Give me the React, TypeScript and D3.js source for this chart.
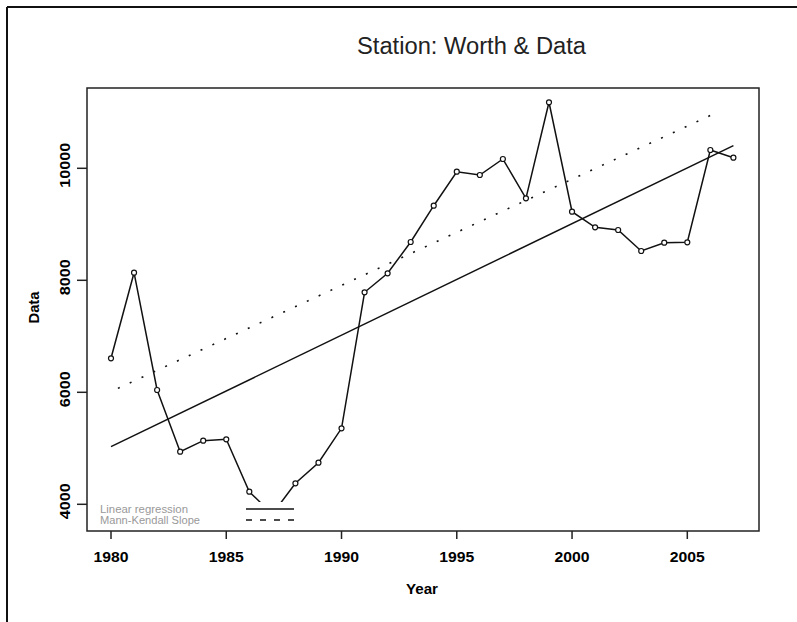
import React from "react";
import * as d3 from "d3";

const years = [1980,1981,1982,1983,1984,1985,1986,1987,1988,1989,1990,1991,1992,1993,1994,1995,1996,1997,1998,1999,2000,2001,2002,2003,2004,2005,2006,2007];
const values = [6607,8136,6041,4939,5136,5161,4225,3826,4375,4743,5357,7786,8125,8684,9332,9939,9880,10166,9464,11179,9225,8946,8898,8523,8671,8679,10327,10189];
const regYears = [1980, 2007];
const regValues = [5029, 10404];
const mkYears = [1980.3, 2006.3];
const mkValues = [6070, 11000];
const xTicks = [1980, 1985, 1990, 1995, 2000, 2005];
const yTicks = [4000, 6000, 8000, 10000];
const legendLabels = ["Linear regression", "Mann-Kendall Slope"];
const title = "Station: Worth & Data";

export default function App() {
  const x = d3.scaleLinear().domain([1980, 2005]).range([111, 687.3]);
  const y = d3.scaleLinear().domain([4000, 10000]).range([504.3, 168.3]);
  const line = d3.line<[number, number]>().x(d => x(d[0])).y(d => y(d[1]));
  const dataPts: [number, number][] = years.map((yr, i) => [yr, values[i]]);
  const regPts: [number, number][] = regYears.map((yr, i) => [yr, regValues[i]]);
  const mkPts: [number, number][] = mkYears.map((yr, i) => [yr, mkValues[i]]);
  const box = { l: 87, t: 88, r: 759, b: 531 };
  const font = "'Liberation Sans', Arial, sans-serif";
  return (
    <svg width={797} height={622} style={{ position: "absolute", left: 0, top: 0, background: "#fff" }}>
      <rect x={0} y={0} width={797} height={622} fill="#fff" />
      {/* outer frame (top & left) */}
      <line x1={7} y1={7} x2={797} y2={7} stroke="#111" strokeWidth={2} />
      <line x1={7} y1={7} x2={7} y2={622} stroke="#111" strokeWidth={2} />
      {/* title */}
      <text x={357} y={54} fontFamily={font} fontSize={23} fill="#222" textLength={229} lengthAdjust="spacingAndGlyphs">{title}</text>
      {/* data line and points */}
      <path d={line(dataPts) || ""} fill="none" stroke="#111" strokeWidth={1.5} />
      {dataPts.map((p, i) => (
        <circle key={i} cx={x(p[0])} cy={y(p[1])} r={2.5} fill="#fff" stroke="#111" strokeWidth={1.2} />
      ))}
      {/* regression & Mann-Kendall */}
      <path d={line(regPts) || ""} fill="none" stroke="#111" strokeWidth={1.5} />
      <path d={line(mkPts) || ""} fill="none" stroke="#111" strokeWidth={1.6} strokeDasharray="2,11" />
      {/* legend */}
      <rect x={92} y={502} width={208} height={28} fill="#fff" />
      <text x={100} y={513} fontFamily={font} fontSize={10} fill="#999" textLength={88} lengthAdjust="spacingAndGlyphs">{legendLabels[0]}</text>
      <text x={100} y={524} fontFamily={font} fontSize={10} fill="#999" textLength={100} lengthAdjust="spacingAndGlyphs">{legendLabels[1]}</text>
      <line x1={246} y1={509} x2={294} y2={509} stroke="#111" strokeWidth={1.5} />
      <line x1={246} y1={520} x2={294} y2={520} stroke="#111" strokeWidth={1.5} strokeDasharray="6,8" />
      {/* plot box */}
      <rect x={box.l} y={box.t} width={box.r - box.l} height={box.b - box.t} fill="none" stroke="#222" strokeWidth={1.5} />
      {/* x axis */}
      {xTicks.map(t => (
        <g key={t}>
          <line x1={x(t)} y1={box.b} x2={x(t)} y2={box.b + 8} stroke="#222" strokeWidth={1.5} />
          <text x={x(t)} y={562} textAnchor="middle" fontFamily={font} fontWeight="bold" fontSize={15} fill="#000" textLength={35} lengthAdjust="spacingAndGlyphs">{t}</text>
        </g>
      ))}
      <text x={422} y={594} textAnchor="middle" fontFamily={font} fontWeight="bold" fontSize={15} fill="#000" textLength={32} lengthAdjust="spacingAndGlyphs">Year</text>
      {/* y axis */}
      {yTicks.map(t => (
        <g key={t}>
          <line x1={box.l - 10} y1={y(t)} x2={box.l} y2={y(t)} stroke="#222" strokeWidth={1.5} />
          <text transform={`translate(70,${y(t) - 3}) rotate(-90)`} textAnchor="middle" fontFamily={font} fontWeight="bold" fontSize={15} fill="#000" textLength={String(t).length * 9} lengthAdjust="spacingAndGlyphs">{t}</text>
        </g>
      ))}
      <text transform={`translate(38.5,307.5) rotate(-90)`} textAnchor="middle" fontFamily={font} fontWeight="bold" fontSize={15} fill="#000" textLength={32} lengthAdjust="spacingAndGlyphs">Data</text>
    </svg>
  );
}
